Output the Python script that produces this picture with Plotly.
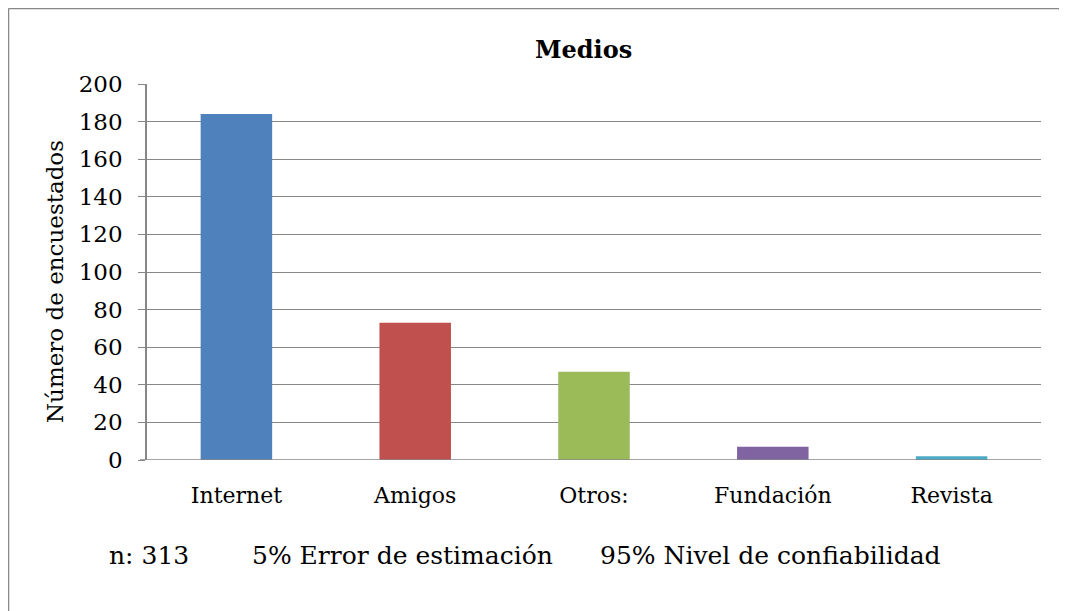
import plotly.graph_objects as go

categories = ["Internet", "Amigos", "Otros:", "Fundación", "Revista"]
values = [184, 73, 47, 7, 2]
colors = ["#4F81BD", "#C0504D", "#9BBB59", "#8064A2", "#4BACC6"]
y_ticks = [0, 20, 40, 60, 80, 100, 120, 140, 160, 180, 200]
title_text = "Medios"
y_title = "Número de encuestados"
notes = ["n: 313", "5% Error de estimación", "95% Nivel de confiabilidad"]

OFF = 8  # page body margin
W, H = 1067 - OFF, 611 - OFF
# plot area in screen pixels: x 147..1041, y 84..460
L = 147 - OFF
T = 84 - OFF
R = W - (1041 - OFF)
B = H - (460 - OFF)
pw, ph = W - L - R, H - T - B

FONT = "DejaVu Serif"
GRID = "#878787"

fig = go.Figure(go.Bar(
    x=categories, y=values, marker=dict(color=colors, line=dict(width=0)),
    width=0.4,
))

def px_x(x):
    return (x - OFF - L) / pw

def px_y(y):
    return (H - B - (y - OFF)) / ph

fig.update_layout(
    width=W, height=H,
    margin=dict(l=L, r=R, t=T, b=B, autoexpand=False),
    paper_bgcolor="white", plot_bgcolor="white",
    font=dict(family=FONT, color="black", size=20),
    showlegend=False,
    xaxis=dict(showgrid=False, showline=False, ticks="", tickfont=dict(size=22),
               ticklabelstandoff=20),
    yaxis=dict(range=[0, 200], tickvals=y_ticks, showgrid=True, gridcolor=GRID, gridwidth=1.2,
               showline=True, linecolor=GRID, linewidth=1.5, ticks="outside", ticklen=7,
               tickcolor=GRID, tickfont=dict(size=23), zeroline=False, ticklabelstandoff=11),
    bargap=0.6,
)

# title
fig.add_annotation(text="<b>" + title_text + "</b>", xref="paper", yref="paper",
                   x=px_x(583), y=px_y(50), xanchor="center", yanchor="middle",
                   showarrow=False, font=dict(size=24, family=FONT))

# y-axis title
fig.add_annotation(text=y_title, xref="paper", yref="paper", textangle=-90,
                   x=px_x(55), y=px_y(282), xanchor="center", yanchor="middle",
                   showarrow=False, font=dict(size=23, family=FONT))

# baseline extended to the left like a tick
fig.add_shape(type="line", xref="paper", yref="y", x0=px_x(140), x1=1, y0=0, y1=0,
              line=dict(color=GRID, width=1.5))

# outer chart border (only left and top edges visible)
fig.add_shape(type="line", xref="paper", yref="paper",
              x0=px_x(8.5), x1=px_x(1067 + 20), y0=px_y(8.5), y1=px_y(8.5),
              line=dict(color=GRID, width=1.5), layer="below")
fig.add_shape(type="line", xref="paper", yref="paper",
              x0=px_x(8.5), x1=px_x(8.5), y0=px_y(8.5), y1=px_y(611 + 20),
              line=dict(color=GRID, width=1.5), layer="below")

note_x = [107, 250, 598]
for t, x in zip(notes, note_x):
    fig.add_annotation(text=t, xref="paper", yref="paper", x=px_x(x), y=px_y(555),
                       xanchor="left", yanchor="middle", showarrow=False,
                       font=dict(size=25, family=FONT))

fig.write_html("out.html")
